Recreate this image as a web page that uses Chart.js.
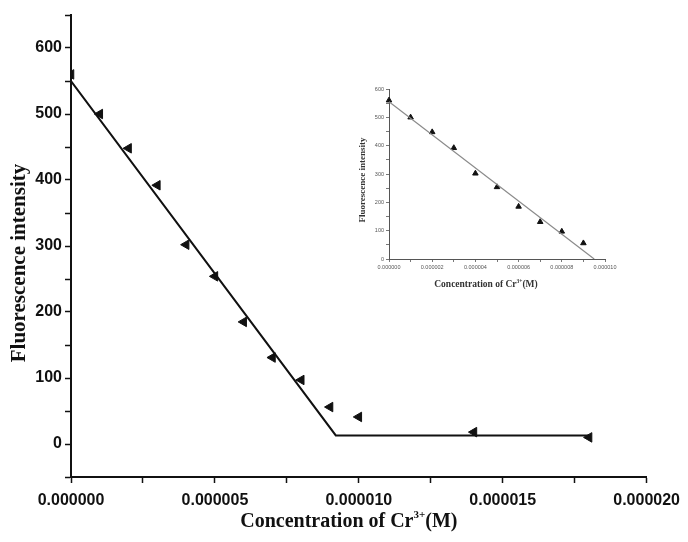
<!DOCTYPE html>
<html>
<head>
<meta charset="utf-8">
<script src="https://cdn.jsdelivr.net/npm/chart.js@4.4.1/dist/chart.umd.min.js"></script>
<style>
  html, body { margin: 0; padding: 0; background: #fff; }
  #wrap { position: relative; width: 688px; height: 542px; }
  #mainChart { position: absolute; left: 0; top: 0; }
  #insetChart { position: absolute; left: 345px; top: 78px; }
</style>
</head>
<body>
<div id="wrap">
  <canvas id="mainChart" width="688" height="542"></canvas>
  <canvas id="insetChart" width="280" height="215"></canvas>
</div>
<script>
// measured points (M, a.u.)
var concentration = [0, 0.000001, 0.000002, 0.000003, 0.000004, 0.000005, 0.000006, 0.000007, 0.000008, 0.000009, 0.00001, 0.000014, 0.000018];
var intensity = [560, 500, 448, 392, 302, 254, 185, 131, 97, 56, 41, 18, 10];

// fitted line + plateau on the main plot
var fitX = [0, 0.0000092, 0.000018];
var fitY = [550, 13, 13];

// inset only uses the first ten points
var insetConcentration = concentration.slice(0, 10);
var insetIntensity = intensity.slice(0, 10);
var insetFitX = [0, 0.0000095];
var insetFitY = [555, 0];

// ticks
var mainXTicks = [0, 0.0000025, 0.000005, 0.0000075, 0.00001, 0.0000125, 0.000015, 0.0000175, 0.00002];
var mainXLabels = [0, 0.000005, 0.00001, 0.000015, 0.00002];
var mainYTicks = [-50, 0, 50, 100, 150, 200, 250, 300, 350, 400, 450, 500, 550, 600, 650];
var mainYLabels = [0, 100, 200, 300, 400, 500, 600];

var insetXTicks = [0, 0.000001, 0.000002, 0.000003, 0.000004, 0.000005, 0.000006, 0.000007, 0.000008, 0.000009, 0.00001];
var insetXLabels = [0, 0.000002, 0.000004, 0.000006, 0.000008, 0.00001];
var insetYTicks = [0, 50, 100, 150, 200, 250, 300, 350, 400, 450, 500, 550, 600];
var insetYLabels = [0, 100, 200, 300, 400, 500, 600];

var yTitle = "Fluorescence intensity";
var xTitleParts = ["Concentration of Cr", "3+", "(M)"];

function toPoints(xs, ys) {
  return xs.map(function (x, i) { return { x: x, y: ys[i] }; });
}

function hasValue(list, v) {
  return list.some(function (a) { return Math.abs(a - v) < 1e-12; });
}

var serif = '"Liberation Serif", "Times New Roman", serif';

// axis titles drawn by hand so the superscript looks right
var titlesPlugin = {
  id: "axisTitles",
  afterDraw: function (chart, args, opts) {
    var ctx = chart.ctx;
    var area = chart.chartArea;
    ctx.save();
    ctx.fillStyle = opts.color;

    // y title
    ctx.font = "bold " + opts.ySize + "px " + serif;
    ctx.textAlign = "center";
    ctx.textBaseline = "middle";
    ctx.translate(opts.yTitleX, (area.top + area.bottom) / 2 + opts.yShift);
    ctx.rotate(-Math.PI / 2);
    ctx.fillText(yTitle, 0, 0);
    ctx.setTransform(1, 0, 0, 1, 0, 0);

    // x title with superscript
    ctx.textAlign = "left";
    ctx.textBaseline = "alphabetic";
    var sizes = [opts.size, opts.supSize, opts.size];
    var rises = [0, opts.rise, 0];
    var widths = [];
    var total = 0;
    xTitleParts.forEach(function (t, i) {
      ctx.font = "bold " + sizes[i] + "px " + serif;
      widths.push(ctx.measureText(t).width);
      total += widths[i];
    });
    var x = (area.left + area.right) / 2 + opts.xShift - total / 2;
    var base = area.bottom + opts.xBaseline;
    xTitleParts.forEach(function (t, i) {
      ctx.font = "bold " + sizes[i] + "px " + serif;
      ctx.fillText(t, x, base - rises[i]);
      x += widths[i];
    });
    ctx.restore();
  }
};

var mainCtx = document.getElementById("mainChart").getContext("2d");
var mainChart = new Chart(mainCtx, {
  type: "scatter",
  data: {
    datasets: [
      {
        type: "line",
        label: "fit",
        data: toPoints(fitX, fitY),
        borderColor: "#111",
        borderWidth: 2,
        pointRadius: 0,
        fill: false,
        tension: 0
      },
      {
        label: "data",
        data: toPoints(concentration, intensity),
        pointStyle: "triangle",
        pointRotation: -90,
        pointRadius: 5.5,
        pointHoverRadius: 5.5,
        backgroundColor: "#111",
        borderColor: "#111",
        borderWidth: 1
      }
    ]
  },
  options: {
    responsive: false,
    animation: false,
    devicePixelRatio: 1,
    layout: { padding: { top: 15, right: 38, bottom: 0, left: 0 } },
    plugins: {
      legend: { display: false },
      tooltip: { enabled: false },
      axisTitles: { color: "#111", size: 20, ySize: 21, supSize: 11, rise: 9, yTitleX: 20, yShift: 17, xShift: -10, xBaseline: 50 }
    },
    scales: {
      x: {
        type: "linear",
        min: 0,
        max: 0.00002,
        afterBuildTicks: function (scale) {
          scale.ticks = mainXTicks.map(function (v) { return { value: v }; });
        },
        afterFit: function (scale) { scale.height = 65; },
        ticks: {
          autoSkip: false,
          maxRotation: 0,
          padding: 8,
          color: "#111",
          font: { family: '"Liberation Sans", Arial, sans-serif', size: 16, weight: "bold" },
          callback: function (value) {
            return hasValue(mainXLabels, value) ? value.toFixed(6) : "";
          }
        },
        grid: { drawOnChartArea: false, drawTicks: true, tickLength: 6, tickWidth: 1.5, tickColor: "#111" },
        border: { display: true, color: "#111", width: 2 }
      },
      y: {
        type: "linear",
        min: -50,
        max: 650,
        afterBuildTicks: function (scale) {
          scale.ticks = mainYTicks.map(function (v) { return { value: v }; });
        },
        afterFit: function (scale) { scale.width = 71; },
        ticks: {
          autoSkip: false,
          padding: 3,
          color: "#111",
          font: { family: '"Liberation Sans", Arial, sans-serif', size: 16, weight: "bold" },
          callback: function (value) {
            return hasValue(mainYLabels, value) ? String(value) : "";
          }
        },
        grid: { drawOnChartArea: false, drawTicks: true, tickLength: 6, tickWidth: 1.5, tickColor: "#111" },
        border: { display: true, color: "#111", width: 2 }
      }
    }
  },
  plugins: [titlesPlugin]
});

var insetCtx = document.getElementById("insetChart").getContext("2d");
var insetChart = new Chart(insetCtx, {
  type: "scatter",
  data: {
    datasets: [
      {
        type: "line",
        label: "fit",
        data: toPoints(insetFitX, insetFitY),
        borderColor: "#8a8a8a",
        borderWidth: 1.2,
        pointRadius: 0,
        fill: false,
        tension: 0
      },
      {
        label: "data",
        data: toPoints(insetConcentration, insetIntensity),
        pointStyle: "triangle",
        pointRadius: 3.2,
        pointHoverRadius: 3.2,
        backgroundColor: "#111",
        borderColor: "#111",
        borderWidth: 1,
        clip: false
      }
    ]
  },
  options: {
    responsive: false,
    animation: false,
    devicePixelRatio: 1,
    layout: { padding: { top: 11, right: 20, bottom: 0, left: 0 } },
    plugins: {
      legend: { display: false },
      tooltip: { enabled: false },
      axisTitles: { color: "#333", size: 9.5, ySize: 9, supSize: 5.5, rise: 4, yTitleX: 18, yShift: 6, xShift: -11, xBaseline: 28 }
    },
    scales: {
      x: {
        type: "linear",
        min: 0,
        max: 0.00001,
        afterBuildTicks: function (scale) {
          scale.ticks = insetXTicks.map(function (v) { return { value: v }; });
        },
        afterFit: function (scale) { scale.height = 34; },
        ticks: {
          autoSkip: false,
          maxRotation: 0,
          padding: 2,
          color: "#555",
          font: { family: '"Liberation Sans", Arial, sans-serif', size: 5.5 },
          callback: function (value) {
            return hasValue(insetXLabels, value) ? value.toFixed(6) : "";
          }
        },
        grid: { drawOnChartArea: false, drawTicks: true, tickLength: 3, tickWidth: 0.8, tickColor: "#555" },
        border: { display: true, color: "#555", width: 1 }
      },
      y: {
        type: "linear",
        min: 0,
        max: 600,
        afterBuildTicks: function (scale) {
          scale.ticks = insetYTicks.map(function (v) { return { value: v }; });
        },
        afterFit: function (scale) { scale.width = 44; },
        ticks: {
          autoSkip: false,
          padding: 2,
          color: "#555",
          font: { family: '"Liberation Sans", Arial, sans-serif', size: 5.5 },
          callback: function (value) {
            return hasValue(insetYLabels, value) ? String(value) : "";
          }
        },
        grid: { drawOnChartArea: false, drawTicks: true, tickLength: 3, tickWidth: 0.8, tickColor: "#555" },
        border: { display: true, color: "#555", width: 1 }
      }
    }
  },
  plugins: [titlesPlugin]
});
</script>
</body>
</html>
